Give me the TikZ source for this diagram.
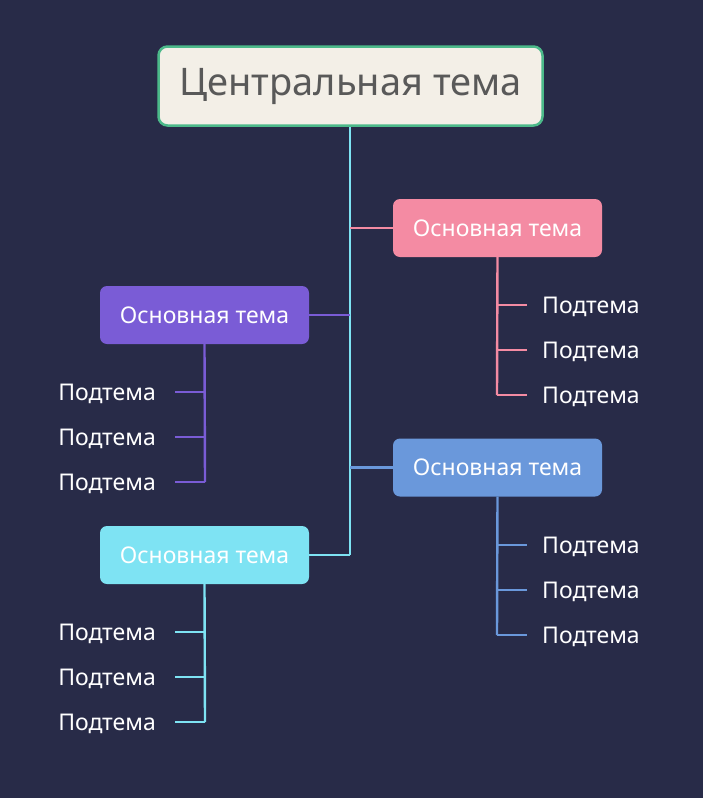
\documentclass[tikz,border=0pt]{standalone}
\usepackage{fontspec}
\setmainfont{Noto Sans}
\definecolor{bgc}{HTML}{282B48}
\definecolor{ctrfill}{HTML}{F3EFE7}
\definecolor{ctredge}{HTML}{4CB98A}
\definecolor{pinkc}{HTML}{F48BA3}
\definecolor{purpc}{HTML}{7A5CD6}
\definecolor{bluec}{HTML}{6A98DB}
\definecolor{cyanc}{HTML}{7EE3F3}
\tikzset{
  main/.style={rounded corners=7pt, minimum width=209pt, minimum height=58pt,
    text=white, font=\fontsize{23}{26}\selectfont, inner sep=0pt},
  sub/.style={text=white, font=\fontsize{23}{26}\selectfont, inner sep=0pt},
  link/.style={line width=2.4pt}
}
\begin{document}
\begin{tikzpicture}[x=1pt, y=-1pt]
      \fill[bgc] (0,0) rectangle (703,798);
      \useasboundingbox (0,0) rectangle (703,798);
      % trunk
      \coordinate (t0) at (350,125);
      \coordinate (t1) at (350,555);
      \draw[link, cyanc] (t0) -- (t1);
      \node[draw=ctredge, line width=2.5pt, fill=ctrfill, rounded corners=9pt,
            minimum width=384pt, minimum height=79pt, text=black!65,
            font=\fontsize{38}{43}\selectfont] (ctr) at (350.5,86) {Центральная тема};
      % main topics
      \node[main, fill=pinkc] (pink) at (497.5,228) {Основная тема};
      \node[main, fill=purpc] (purp) at (204.5,315) {Основная тема};
      \node[main, fill=bluec] (blue) at (497.5,467.5) {Основная тема};
      \node[main, fill=cyanc] (cyan) at (204.5,555) {Основная тема};
      \coordinate (jp) at (350,228);
      \coordinate (ju) at (350,315);
      \coordinate (jb) at (350,467.5);
      \coordinate (jc) at (350,555);
      \draw[link, pinkc] (jp) -- (pink.west);
      \draw[link, purpc] (ju) -- (purp.east);
      \draw[link, bluec] (jb) -- (blue.west);
      \draw[link, cyanc] (jc) -- (cyan.east);
      % subtopics, right side
      \foreach \nm/\col/\y in {pink/pinkc/305, blue/bluec/545} {
        \draw[link, \col] (\nm.south) -- (497,\y+90);
        \foreach \k in {0,1,2} {
          \node[sub, anchor=west] (\nm s\k) at (542,\y+1.5+45*\k) {Подтема};
          \coordinate (\nm e\k) at (527,\y+45*\k);
          \draw[link, \col] (497,\y+45*\k) -- (\nm e\k);
        }
      }
      % subtopics, left side
      \foreach \nm/\col/\y in {purp/purpc/392, cyan/cyanc/632} {
        \draw[link, \col] (\nm.south) -- (205,\y+90);
        \foreach \k in {0,1,2} {
          \node[sub, anchor=east] (\nm s\k) at (156,\y+1.5+45*\k) {Подтема};
          \coordinate (\nm e\k) at (175,\y+45*\k);
          \draw[link, \col] (205,\y+45*\k) -- (\nm e\k);
        }
      }
\end{tikzpicture}
\end{document}
